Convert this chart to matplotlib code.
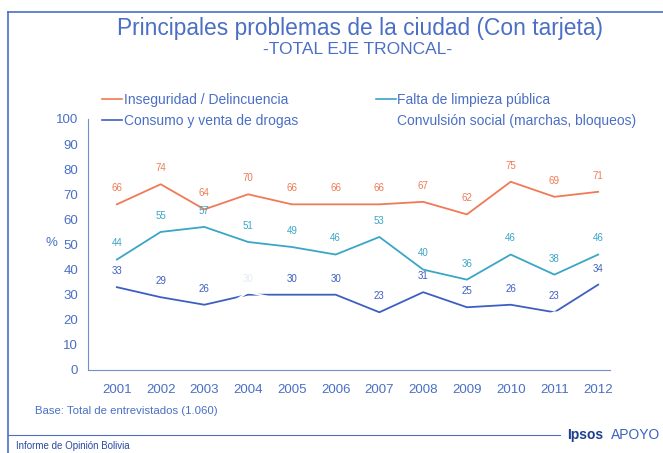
import matplotlib.pyplot as plt
from matplotlib.lines import Line2D

plt.rcParams["font.family"] = ["Liberation Sans", "DejaVu Sans"]

# ---- data ----
years = [2001, 2002, 2003, 2004, 2005, 2006, 2007, 2008, 2009, 2010, 2011, 2012]
inseguridad = [66, 74, 64, 70, 66, 66, 66, 67, 62, 75, 69, 71]
limpieza = [44, 55, 57, 51, 49, 46, 53, 40, 36, 46, 38, 46]
drogas = [33, 29, 26, 30, 30, 30, 23, 31, 25, 26, 23, 34]
convulsion = [30, 24, 20, 31, 27, 22, 18, 20, 16, 17, 23, 22]
series_names = ["Inseguridad / Delincuencia", "Consumo y venta de drogas",
                "Falta de limpieza pública", "Convulsión social (marchas, bloqueos)"]

C_TXT = "#4a6fc4"
C_ORANGE = "#ef7a55"
C_TEAL = "#3aa6c6"
C_BLUE = "#3d5fc2"

fig = plt.figure(figsize=(6.63, 4.53), dpi=100)
ax = fig.add_axes([88/663, 1-370/453, (610-88)/663, (370-119)/453])

ax.plot(years, inseguridad, color=C_ORANGE, lw=1.3)
ax.plot(years, limpieza, color=C_TEAL, lw=1.3)
ax.plot(years, drogas, color=C_BLUE, lw=1.3)
ax.plot(years, convulsion, color="white", lw=1.3)

def labels(vals, col, skip=()):
    for i, (x, v) in enumerate(zip(years, vals)):
        c = "#e4eaf5" if i in skip else col
        ax.annotate(str(v), (x, v), xytext=(0, 8), textcoords="offset points",
                    ha="center", va="bottom", fontsize=7, color=c)

labels(inseguridad, C_ORANGE)
labels(limpieza, C_TEAL)
labels(drogas, C_BLUE, skip=(3,))

ax.set_xlim(2000.34, 2012.27)
ax.set_ylim(0, 100)
ax.set_yticks(range(0, 101, 10))
ax.set_xticks(years)
for s in ["top", "right"]:
    ax.spines[s].set_visible(False)
for s in ["left", "bottom"]:
    ax.spines[s].set_color("#6f8fcf")
    ax.spines[s].set_linewidth(0.8)
ax.tick_params(length=0, labelsize=9.5, colors=C_TXT)
ax.tick_params(axis="x", pad=10)
ax.tick_params(axis="y", pad=7)

fig.text(51/663, 1-243/453, "%", color=C_TXT, fontsize=9.5, ha="center", va="center")

handles = [Line2D([], [], color=C_ORANGE, lw=1.2), Line2D([], [], color=C_BLUE, lw=1.2),
           Line2D([], [], color=C_TEAL, lw=1.2), Line2D([], [], color="white", lw=1.2)]
leg = fig.legend(handles, series_names, ncol=2, loc="upper left",
                 bbox_to_anchor=(102/663, 1-93/453), frameon=False, fontsize=10,
                 handlelength=1.45, handletextpad=0.1, columnspacing=5.6,
                 labelspacing=0.5, borderaxespad=0, borderpad=0)
for t in leg.get_texts():
    t.set_color(C_TXT)

fig.text(360/663, 1-28/453, "Principales problemas de la ciudad (Con tarjeta)",
         color=C_TXT, fontsize=16.4, ha="center", va="center")
fig.text(358/663, 1-50/453, "-TOTAL EJE TRONCAL-", color=C_TXT, fontsize=12.5,
         ha="center", va="center")
fig.text(35/663, 1-411/453, "Base: Total de entrevistados (1.060)", color=C_TXT,
         fontsize=8.2, va="center")
fig.text(16/663, 1-446/453, "Informe de Opinión Bolivia", color="#2a4aa0",
         fontsize=7, va="center")
fig.text(567/663, 1-435/453, "Ipsos", color="#1f3f8f", fontsize=10,
         fontweight="bold", va="center")
fig.text(611/663, 1-435/453, "APOYO", color="#3a62c0", fontsize=10, va="center")

# frame lines
fig.add_artist(Line2D([8/663, 1], [1-12/453, 1-12/453], color="#4a6fc4", lw=1.2))
fig.add_artist(Line2D([8/663, 8/663], [1-12/453, 0], color="#4a6fc4", lw=1.2))
fig.add_artist(Line2D([8/663, 560/663], [1-435/453, 1-435/453], color="#4a6fc4", lw=0.8))

fig.savefig("out.png", dpi=100)
